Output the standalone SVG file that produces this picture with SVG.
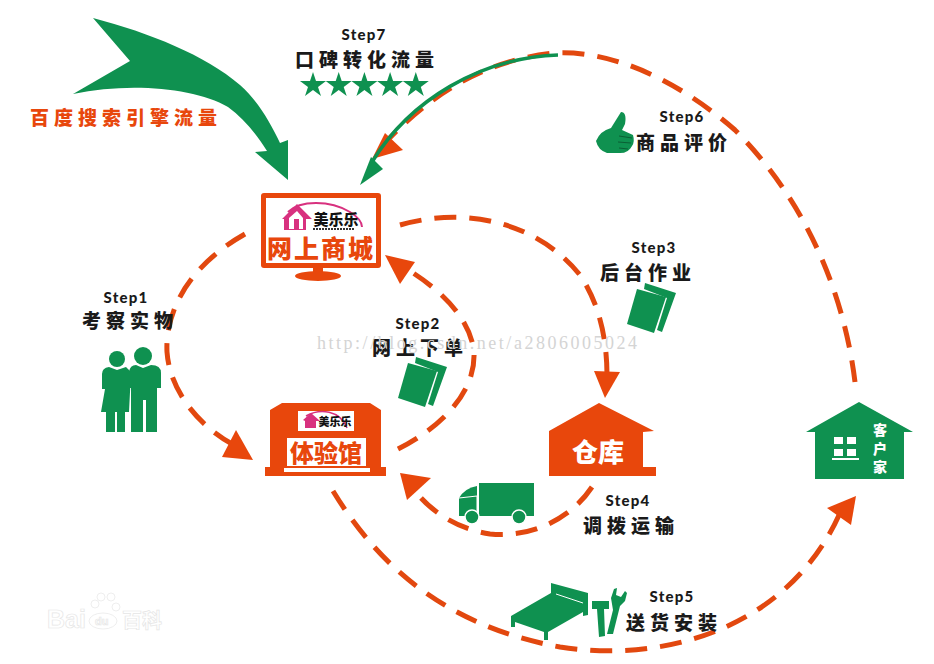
<svg xmlns="http://www.w3.org/2000/svg" xmlns:xlink="http://www.w3.org/1999/xlink" width="934" height="664" viewBox="0 0 934 664">
<style>
.g{fill:#0f9150}.o{fill:#e8470c}.w{fill:#fff}
.dash{fill:none;stroke:#e2480f;stroke-width:5;stroke-dasharray:22 13}
.step{font-family:"Lato","DejaVu Sans",sans-serif;font-weight:900;font-size:15px;letter-spacing:1.2px;fill:#1a1a1a;text-anchor:middle}
.lab{font-family:"Noto Sans CJK SC",sans-serif;font-weight:900;font-size:19px;letter-spacing:5px;fill:#1a1a1a;text-anchor:middle}
.box{font-family:"Noto Sans CJK SC",sans-serif;font-weight:900;text-anchor:middle}
</style>
<defs>
<g id="book"><polygon class="g" points="416,357 447,367 433,406 428,404 438,372 415,363"/><polygon class="g" points="408,363 437,371 425,407 398,398"/></g>
</defs>
<rect width="934" height="664" fill="#fff"/>
<g id="connectors">
<path class="dash" d="M245,234C190,265 165,310 167,352C170,395 205,432 240,448"/>
<polygon class="o" points="253,460 222,457 236,430"/>
<path class="dash" d="M398,449C445,425 476,390 474,352C470,315 435,285 400,265"/>
<polygon class="o" points="385,255 415,262 400,284"/>
<path class="dash" d="M400,225C470,205 540,225 580,275C600,305 607,340 607,376"/>
<polygon class="o" points="594,371 620,372 605,398"/>
<path class="dash" d="M592,487C570,520 530,538 490,534C450,528 425,505 412,487"/>
<polygon class="o" points="400,473 431,478 407,500"/>
<path class="dash" d="M333,491C375,560 440,625 560,647C670,664 790,625 840,513"/>
<polygon class="o" points="856,496 851,525 827,508"/>
<path class="dash" d="M855,382C845,300 810,205 735,130C675,78 610,50 555,53C480,60 425,100 385,143"/>
<polygon class="o" points="385,133 403,150 372,159"/>
<path d="M558,55C480,58 410,100 372,162" fill="none" stroke="#0f9150" stroke-width="3.5"/>
<polygon class="g" points="360,185 383,169 371,157"/>
</g>
<g id="big-arrow"><path class="g" d="M93,18C150,33 205,55 240,85C258,101 270,122 280,143L288,140L288,180L255,152L267,151C255,132 243,118 228,107C195,88 130,82 73,94L130,61Z"/></g>
<text id="baidu-flow" x="126" y="125" class="box" font-size="19" letter-spacing="5" fill="#e8470c">百度搜索引擎流量</text>
<g id="step7"><text class="step" x="364" y="40">Step7</text><text class="lab" x="367" y="67">口碑转化流量</text>
<g class="g"><polygon id="star" points="313,72 316,81 326,81 318,87 321,96 313,90 305,96 308,87 300,81 310,81"/><use xlink:href="#star" x="25.7"/><use xlink:href="#star" x="51.4"/><use xlink:href="#star" x="77.1"/><use xlink:href="#star" x="102.8"/></g></g>
<g id="shop">
<rect class="o" x="261" y="193" width="120" height="75" rx="3"/><rect class="w" x="266" y="198" width="110" height="65"/>
<rect class="o" x="313" y="267" width="10" height="8"/><ellipse class="o" cx="318" cy="276" rx="23" ry="5"/>
<path d="M288,212C300,200 330,200 350,212C358,217 362,222 362,227" fill="none" stroke="#d8317f" stroke-width="2"/>
<path d="M282,219L297,204L312,219L306,219L306,230H284V219Z" fill="#d8317f"/><path d="M289,229V218L297,211L303,218V229Z" class="w"/><rect x="294" y="219" width="5" height="10" fill="#d8317f"/>
<text class="box" x="336" y="225" font-size="15" fill="#111">美乐乐</text>
<line x1="313" y1="229" x2="354" y2="229" stroke="#333" stroke-width="2" stroke-dasharray="2 1"/>
<text class="box" x="321" y="258" font-size="25" fill="#e8470c" letter-spacing="2">网上商城</text>
</g>
<g id="experience">
<polygon class="o" points="282,403 370,403 381,410 381,467 386,467 386,476 265,476 265,467 270,467 270,410"/>
<rect class="w" x="298" y="411" width="56" height="20"/>
<path d="M303,420L311,413L320,421L316,421V428H305V421Z" fill="#d8317f"/><path d="M306,416C320,408 340,410 347,428" fill="none" stroke="#d8317f" stroke-width="1.5"/>
<text class="box" x="335" y="426" font-size="11" fill="#111">美乐乐</text>
<rect class="w" x="287" y="438" width="79" height="28"/><rect class="w" x="284" y="468" width="86" height="4"/>
<text class="box" x="326" y="462" font-size="24" fill="#e8470c">体验馆</text>
</g>
<g id="warehouse">
<polygon class="o" points="599,403 654,431 643,432 643,467 656,467 656,476 549,476 549,431"/>
<text class="box" x="598" y="462" font-size="26" fill="#fff">仓库</text>
</g>
<g id="home">
<polygon class="g" points="859,402 913,432 904,432 904,479 815,479 815,432 806,432"/>
<g class="w"><rect x="834" y="437" width="9" height="7"/><rect x="847" y="437" width="9" height="7"/><rect x="834" y="449" width="9" height="7"/><rect x="847" y="449" width="9" height="7"/><rect x="832" y="458" width="27" height="2"/></g>
<g class="box" font-size="14" fill="#fff"><text x="880" y="435">客</text><text x="880" y="454">户</text><text x="880" y="472">家</text></g>
</g>
<g id="step1"><text class="step" x="126" y="303">Step1</text><text class="lab" x="130" y="328">考察实物</text>
<g class="g"><circle cx="117" cy="359" r="8"/><circle cx="143" cy="356" r="9"/>
<path d="M102,374Q102,368 109,367L117,370L126,367L131,372L129,412H125V432H117V412H115V432H106V412H101L105,389H102Z"/>
<path d="M129,372Q130,365 136,365L143,368L151,365Q161,365 161,373V388H157V432H146V400H143V432H131V388L129,388Z"/></g></g>
<g id="step2"><text class="step" x="418" y="329">Step2</text><text class="lab" x="420" y="355">网上下单</text><use xlink:href="#book"/></g>
<g id="step3"><text class="step" x="654" y="253">Step3</text><text class="lab" x="648" y="280">后台作业</text><use xlink:href="#book" x="229" y="-74"/></g>
<g id="step4"><text class="step" x="628" y="506">Step4</text><text class="lab" x="631" y="533">调拨运输</text>
<g class="g"><rect x="479" y="483" width="55" height="33"/><path d="M477,486V516H459V498Q465,488 477,486Z"/></g>
<path d="M459,498L477,496V516" fill="none" stroke="#fff" stroke-width="1"/>
<circle class="g" cx="472" cy="517" r="7" stroke="#fff" stroke-width="1.5"/><circle class="g" cx="519" cy="517" r="7" stroke="#fff" stroke-width="1.5"/></g>
<g id="step5"><text class="step" x="672" y="602">Step5</text><text class="lab" x="674" y="630">送货安装</text>
<g class="g"><polygon points="551,583 588,593 588,615 583,616 583,612 548,632 548,640 544,640 544,632 515,622 515,627 511,627 511,616 551,593"/>
<polygon points="592,601 609,601 609,609 604,609 605,636 599,637 597,609 592,609"/>
<polygon points="607,634 613,610 611,598 614,589 617,588 616,595 621,597 625,591 627,593 625,601 620,606 613,634"/></g>
<line x1="556" y1="594" x2="583" y2="603" stroke="#fff" stroke-width="1"/></g>
<g id="step6"><text class="step" x="682" y="122">Step6</text><text class="lab" x="684" y="150">商品评价</text>
<path class="g" d="M596,141Q600,131 611,128L621,112Q627,112 625,124L622,130L633,135Q635,142 632,146Q628,154 618,153L607,153Q598,150 596,141Z"/>
<path d="M619,136L632,138M618,142L631,143M619,148L628,149" fill="none" stroke="#0a5f34" stroke-width="1"/></g>
<text id="watermark" x="317" y="349" font-family="'Liberation Serif',serif" font-size="18" fill="#d4d4d4" textLength="320" lengthAdjust="spacing">http://blog.csdn.net/a2806005024</text>
<g id="baidu-mark" font-family="'Liberation Sans',sans-serif" font-weight="700" font-size="25" fill="#fff" stroke="#e6e6e6" stroke-width="0.7">
<text x="47" y="628">Bai</text><ellipse cx="103" cy="621" rx="14" ry="8"/><text x="95" y="625" font-size="11">du</text>
<circle cx="95" cy="604" r="4"/><circle cx="101" cy="597" r="4"/><circle cx="111" cy="597" r="4"/><circle cx="116" cy="607" r="4"/>
<text x="122" y="628" font-family="'Noto Sans CJK SC',sans-serif" font-size="20">百科</text></g>
</svg>
